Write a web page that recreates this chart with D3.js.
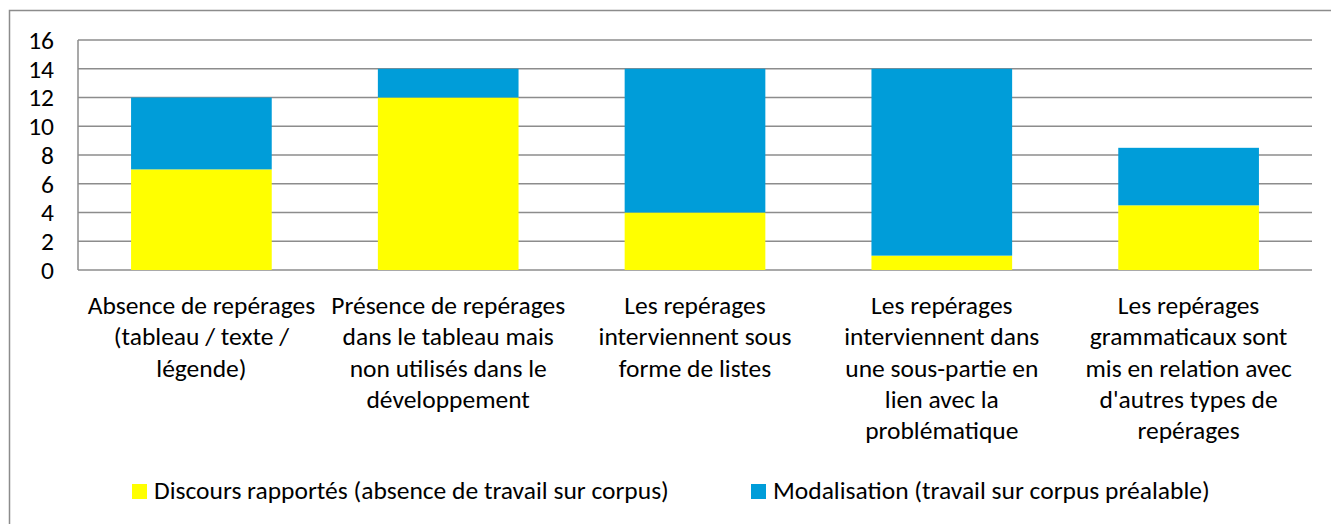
<!DOCTYPE html>
<html>
<head>
<meta charset="utf-8">
<script src="https://cdn.jsdelivr.net/npm/d3@7"></script>
<style>
  body { margin: 0; background: #fff; }
  svg text { font-family: Carlito, Calibri, Lato, sans-serif; fill: #000; }
</style>
</head>
<body>
<svg id="viz" width="1331" height="524"></svg>
<script>
// categories, one array of lines per bar
var categories = [
  ["Absence de repérages", "(tableau / texte /", "légende)"],
  ["Présence de repérages", "dans le tableau mais", "non utilisés dans le", "développement"],
  ["Les repérages", "interviennent sous", "forme de listes"],
  ["Les repérages", "interviennent dans", "une sous-partie en", "lien avec la", "problématique"],
  ["Les repérages", "grammaticaux sont", "mis en relation avec", "d'autres types de", "repérages"]
];
var discours = [7, 12, 4, 1, 4.5];      // yellow
var modalisation = [5, 2, 10, 13, 4];   // blue
var seriesNames = ["Discours rapportés (absence de travail sur corpus)", "Modalisation (travail sur corpus préalable)"];
var yTicks = [0, 2, 4, 6, 8, 10, 12, 14, 16];

var colors = ["#FFFF00", "#009DD9"];
var margins = {top: 40, left: 78, right: 19, bottom: 254};
var fontSize = "25.5px";

function main(){
  var svg = d3.select("#viz"),
      W = +svg.attr("width"),
      H = +svg.attr("height");

  // outer chart border (runs off right/bottom)
  svg.append("rect")
    .attr("x", 9.5).attr("y", 10.5)
    .attr("width", 1340).attr("height", 530)
    .attr("fill", "none").attr("stroke", "#8c8c8c").attr("stroke-width", 1.5);

  var x = d3.scaleBand()
    .domain(d3.range(categories.length))
    .range([margins.left, W - margins.right])
    .paddingInner(0.43).paddingOuter(0.215);
  var y = d3.scaleLinear().domain([0, 16]).range([H - margins.bottom, margins.top]);

  // gridlines
  svg.append("g").selectAll("line")
    .data(yTicks)
    .join("line")
      .attr("x1", margins.left).attr("x2", W - margins.right)
      .attr("y1", function(d){ return y(d); }).attr("y2", function(d){ return y(d); })
      .attr("stroke", "#8c8c8c").attr("stroke-width", 1.5);

  svg.append("line")
    .attr("x1", margins.left).attr("x2", margins.left)
    .attr("y1", y(16)).attr("y2", y(0))
    .attr("stroke", "#8c8c8c").attr("stroke-width", 1.5);

  // y tick labels
  svg.append("g").selectAll("text")
    .data(yTicks)
    .join("text")
      .attr("x", 54)
      .attr("y", function(d){ return y(d); })
      .attr("dy", "0.35em")
      .attr("text-anchor", "end")
      .style("font-size", fontSize)
      .text(function(d){ return d; });

  // stacked bars
  var stacked = discours.map(function(d, i){
    return [{i: i, y0: 0, y1: d, c: 0}, {i: i, y0: d, y1: d + modalisation[i], c: 1}];
  });
  svg.append("g").selectAll("rect")
    .data(stacked.flat())
    .join("rect")
      .attr("x", function(d){ return x(d.i); })
      .attr("width", x.bandwidth())
      .attr("y", function(d){ return y(d.y1); })
      .attr("height", function(d){ return y(d.y0) - y(d.y1); })
      .attr("fill", function(d){ return colors[d.c]; });

  // category labels
  var lab = svg.append("g").selectAll("text")
    .data(categories)
    .join("text")
      .attr("text-anchor", "middle")
      .style("font-size", fontSize);
  lab.selectAll("tspan")
    .data(function(d, i){ return d.map(function(t, k){ return {t: t, k: k, i: i}; }); })
    .join("tspan")
      .attr("x", function(d){ return x(d.i) + x.bandwidth() / 2; })
      .attr("y", function(d){ return 314 + d.k * 31.3; })
      .text(function(d){ return d.t; });

  // legend
  var legX = [132, 751];
  var leg = svg.append("g").selectAll("g")
    .data(seriesNames)
    .join("g")
      .attr("transform", function(d, i){ return "translate(" + legX[i] + ",484)"; });
  leg.append("rect")
    .attr("width", 15).attr("height", 15)
    .attr("fill", function(d, i){ return colors[i]; });
  leg.append("text")
    .attr("x", 22).attr("y", 15)
    .style("font-size", fontSize)
    .text(function(d){ return d; });
}
main();
</script>
</body>
</html>
